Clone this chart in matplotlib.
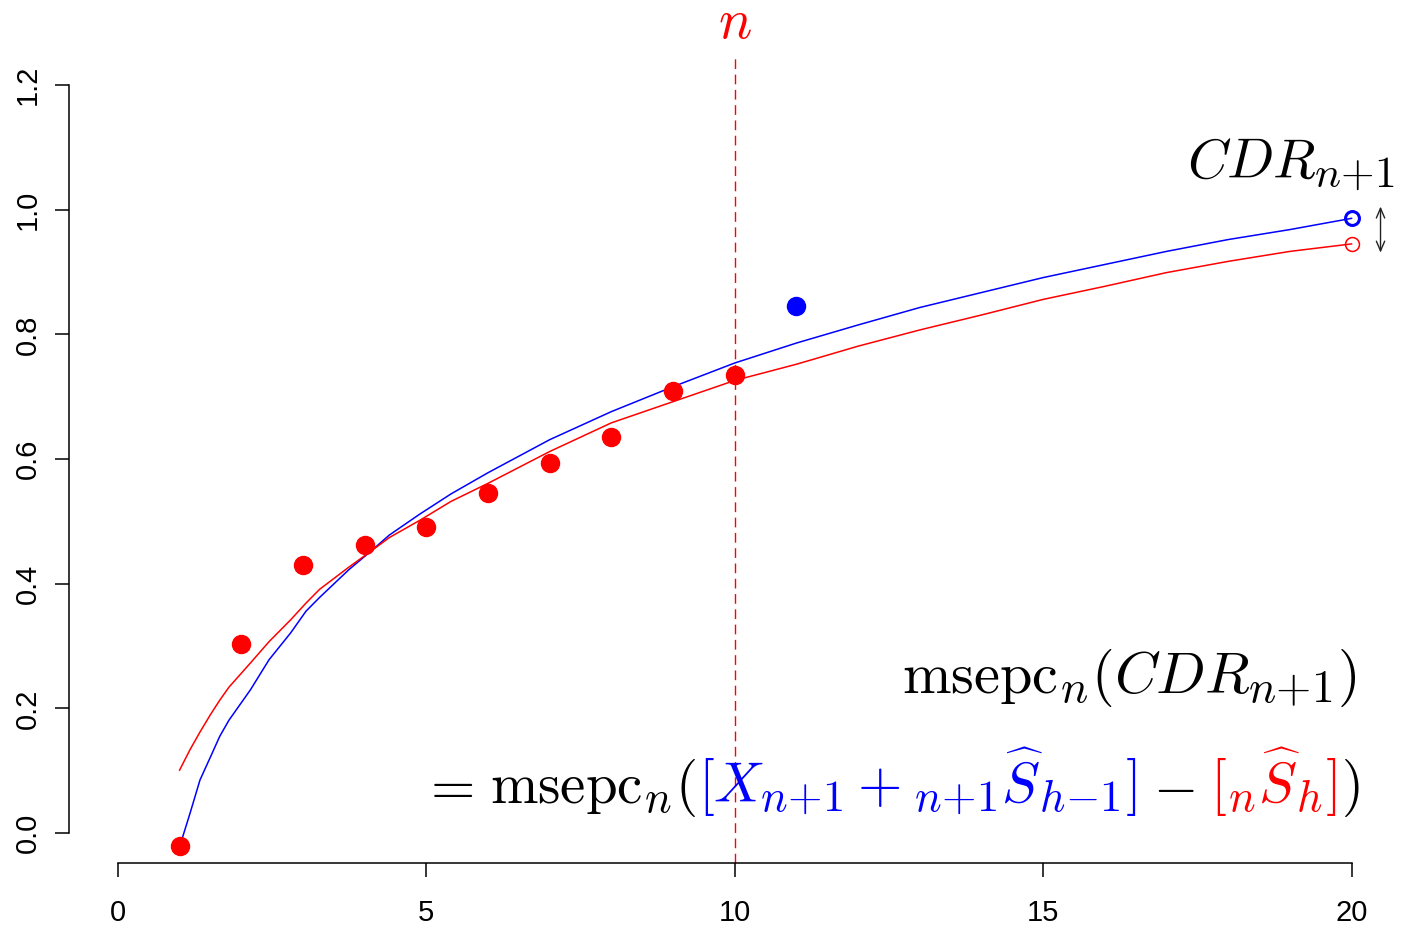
import matplotlib
matplotlib.use("Agg")
import matplotlib.pyplot as plt
import matplotlib._mathtext as mt

plt.rcParams['mathtext.fontset'] = 'cm'
plt.rcParams['font.family'] = ['Liberation Sans Narrow', 'Liberation Sans', 'DejaVu Sans']
# TeX uses wider script fonts than a plain 0.7 scale
mt.SHRINK_FACTOR = 0.78

# observed cumulative values (red) and the next one (blue)
obs_x = [1, 2, 3, 4, 5, 6, 7, 8, 9, 10]
obs_y = [-0.021, 0.303, 0.430, 0.462, 0.491, 0.546, 0.594, 0.636, 0.709, 0.734]
next_x = [11]
next_y = [0.846]

# fitted curves
curve_x = [1, 1.17, 1.33, 1.5, 1.65, 1.8, 2.15, 2.45, 2.8, 3.05, 3.27, 3.75,
           4.1, 4.4, 4.9, 5.4, 6, 7, 8, 9, 10, 11, 12, 13, 14, 15, 16, 17,
           18, 19, 20]
blue_y = [-0.022, 0.032, 0.085, 0.122, 0.155, 0.181, 0.230, 0.278, 0.321, 0.356,
          0.378, 0.423, 0.452, 0.478, 0.512, 0.544, 0.578, 0.631, 0.676, 0.716,
          0.754, 0.786, 0.815, 0.843, 0.867, 0.891, 0.912, 0.933, 0.952, 0.968,
          0.986]
red_y = [0.101, 0.134, 0.162, 0.190, 0.213, 0.234, 0.273, 0.307, 0.342, 0.369,
         0.391, 0.427, 0.452, 0.474, 0.502, 0.532, 0.561, 0.612, 0.658, 0.692,
         0.726, 0.752, 0.781, 0.807, 0.831, 0.856, 0.877, 0.899, 0.917, 0.933,
         0.945]

x_ticks = [0, 5, 10, 15, 20]
y_ticks = [0.0, 0.2, 0.4, 0.6, 0.8, 1.0, 1.2]
y_labels = ["0.0", "0.2", "0.4", "0.6", "0.8", "1.0", "1.2"]
n_now = 10

fig = plt.figure(figsize=(14.02, 9.34), dpi=100)
ax = fig.add_axes([0.0489, 0.0760, 0.9503, 0.8651])
ax.set_xlim(-0.8, 20.8)
ax.set_ylim(-0.048, 1.248)

ax.plot(curve_x, blue_y, color='#0000ff', lw=1.1, solid_joinstyle='round')
ax.plot(curve_x, red_y, color='#ff0000', lw=1.1, solid_joinstyle='round')
ax.plot(obs_x, obs_y, 'o', color='#ff0000', ms=13)
ax.plot(next_x, next_y, 'o', color='#0000ff', ms=13)

# open circles at the end of each curve
ax.plot(curve_x[-1], blue_y[-1], 'o', mfc='none', mec='#0000ff', ms=10, mew=2.2)
ax.plot(curve_x[-1], red_y[-1], 'o', mfc='none', mec='#ff0000', ms=10, mew=1.1)

ax.axvline(n_now, color='#ff0000', lw=1.0, dashes=(7, 4))
ax.text(n_now, 1.276, r'$n$', color='#ff0000', fontsize=40,
        ha='center', va='baseline', clip_on=False)

ax.annotate('', xy=(20.47, 1.005), xytext=(20.47, 0.931),
            arrowprops=dict(arrowstyle='<->,head_length=0.7,head_width=0.3',
                            color='#222222', lw=1.0, shrinkA=0, shrinkB=0))

ax.text(20.70, 1.051, r'$CDR_{n{+}1}$', fontsize=40, ha='right', va='baseline')
ax.text(20.08, 0.225, r'$\mathrm{msepc}_n(CDR_{n{+}1})$', fontsize=42,
        ha='right', va='baseline')

# second line, built from coloured pieces (text, colour, gap after in px)
pieces = [(r'$=$', 'black', 16),
          (r'$\mathrm{msepc}_n($', 'black', 2),
          (r'$[X_{n{+}1}+{}_{n{+}1}\widehat{S}_{h{-}1}]$', '#0000ff', 16),
          (r'$-$', 'black', 16),
          (r'$[{}_n\widehat{S}_h]$', '#ff0000', 4),
          (r'$)$', 'black', 0)]
texts = [ax.text(0, 0.048, s, color=c, fontsize=41, va='baseline') for s, c, g in pieces]
fig.canvas.draw()
renderer = fig.canvas.get_renderer()
widths = [t.get_window_extent(renderer).width for t in texts]
gaps = [g for s, c, g in pieces]
right_px = ax.transData.transform((20.13, 0.048))[0]
x_px = right_px - sum(widths) - sum(gaps)
inv = ax.transData.inverted()
for t, w, g in zip(texts, widths, gaps):
    t.set_x(inv.transform((x_px, 0))[0])
    x_px += w + g

for side in ['top', 'right']:
    ax.spines[side].set_visible(False)
ax.spines['left'].set_bounds(0, 1.2)
ax.spines['bottom'].set_bounds(0, 20)
ax.spines['left'].set_linewidth(1.1)
ax.spines['bottom'].set_linewidth(1.1)

ax.set_xticks(x_ticks)
ax.set_yticks(y_ticks)
ax.set_yticklabels(y_labels, rotation=90, va='center')
ax.tick_params(axis='both', length=10, width=1.1, labelsize=21)
ax.tick_params(axis='x', pad=16)
ax.tick_params(axis='y', pad=9)

fig.savefig('out.png', dpi=100)
